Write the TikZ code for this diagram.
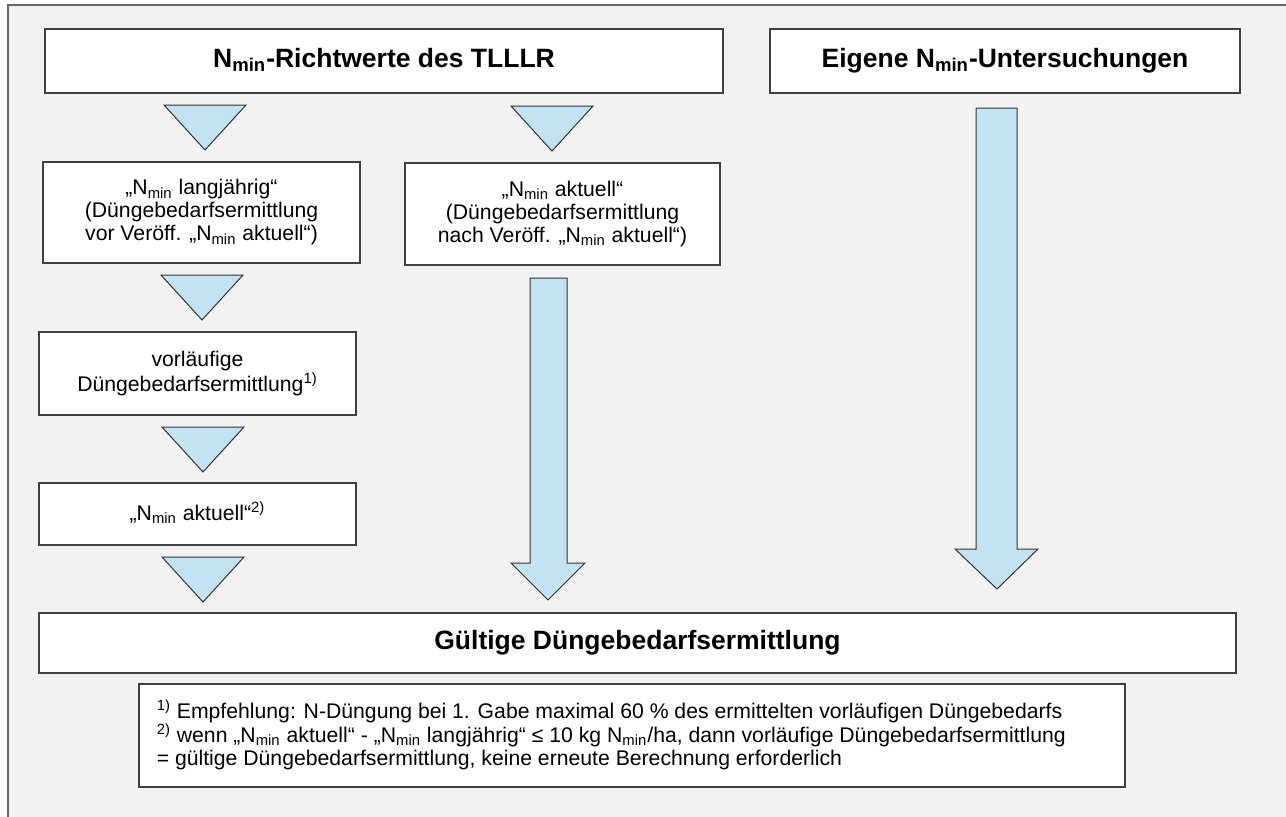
\documentclass[tikz,border=0pt]{standalone}
\usepackage{fontspec}
\setmainfont{Liberation Sans}
\definecolor{dgFrame}{HTML}{F2F2F2}
\definecolor{dgBlue}{HTML}{C3E3F3}
\definecolor{dgLine}{HTML}{404040}
\newcommand{\Nmin}{N\textsubscript{min}}
\tikzset{
  bgframe/.style  = {fill=dgFrame, draw=dgLine!80, line width=0.6pt},
  box/.style      = {draw=dgLine, fill=white, line width=0.6pt, inner sep=0pt, align=center},
  headbox/.style  = {box, font=\fontsize{13.25}{15}\selectfont\bfseries},
  txtbox/.style   = {box, font=\fontsize{10.6}{11.5}\selectfont},
  flow/.style     = {fill=dgBlue, draw=black!80, line width=0.5pt, line join=miter},
  notetext/.style = {inner sep=0pt, align=left, font=\fontsize{10.6}{11.75}\selectfont},
}
\begin{document}
\begin{tikzpicture}[x=0.5pt, y=-0.5pt]
  \useasboundingbox (0,0) rectangle (1286,816);
  \clip (0,0) rectangle (1286,816);
  \filldraw[bgframe] (8,5) rectangle (1300,830);

  % sources
  \node[headbox, minimum width=339pt, minimum height=32pt] (richt) at (384,61)
    {\raisebox{3pt}{\Nmin-Richtwerte des TLLLR}};
  \node[headbox, minimum width=235pt, minimum height=32pt] (eigen) at (1005,61)
    {\raisebox{3pt}{Eigene \Nmin-Untersuchungen}};

  % left and middle column
  \node[txtbox, minimum width=158.5pt, minimum height=50.5pt] (lang) at (201.5,212.5)
    {„\Nmin{} langjährig“\\(Düngebedarfsermittlung\\vor Veröff. „\Nmin{} aktuell“)};
  \node[txtbox, minimum width=157.5pt, minimum height=51pt] (akt) at (562.5,214)
    {„\Nmin{} aktuell“\\(Düngebedarfsermittlung\\nach Veröff. „\Nmin{} aktuell“)};
  \node[txtbox, minimum width=158.5pt, minimum height=41.5pt] (vorl) at (197.5,373.5)
    {vorläufige\\Düngebedarfsermittlung\textsuperscript{1)}};
  \node[txtbox, minimum width=158.5pt, minimum height=31pt] (akt2) at (197.5,514)
    {\raisebox{3pt}{„\Nmin{} aktuell“\textsuperscript{2)}}};

  % result
  \node[headbox, minimum width=598.5pt, minimum height=30pt] (gueltig) at (637.5,643)
    {\raisebox{1.5pt}{Gültige Düngebedarfsermittlung}};

  % footnotes
  \node[box, minimum width=493pt, minimum height=51.5pt] (notes) at (632,735.5) {};
  \node[notetext, anchor=north west] (notetxt) at ([shift={(9pt,-8pt)}]notes.north west)
    {\textsuperscript{1)} Empfehlung: N-Düngung bei 1. Gabe maximal 60 \% des ermittelten vorläufigen Düngebedarfs\\
     \textsuperscript{2)} wenn „\Nmin{} aktuell“ - „\Nmin{} langjährig“ ≤ 10 kg \Nmin/ha, dann vorläufige Düngebedarfsermittlung\\
     = gültige Düngebedarfsermittlung, keine erneute Berechnung erforderlich};

  % triangles
  \foreach \cx/\ty in {205/105, 552/106, 202/275, 203/427, 203/557}
    \filldraw[flow] ({\cx-41},\ty) -- ({\cx+41},\ty) -- (\cx,{\ty+45}) -- cycle;

  % block arrows
  \filldraw[flow] (530,278) -- (567,278) -- (567,563) -- (585,563) -- (548,600)
    -- (511,563) -- (530,563) -- cycle;
  \filldraw[flow] (976,108) -- (1017,108) -- (1017,549) -- (1038,549) -- (997,589)
    -- (955,549) -- (976,549) -- cycle;
\end{tikzpicture}
\end{document}
